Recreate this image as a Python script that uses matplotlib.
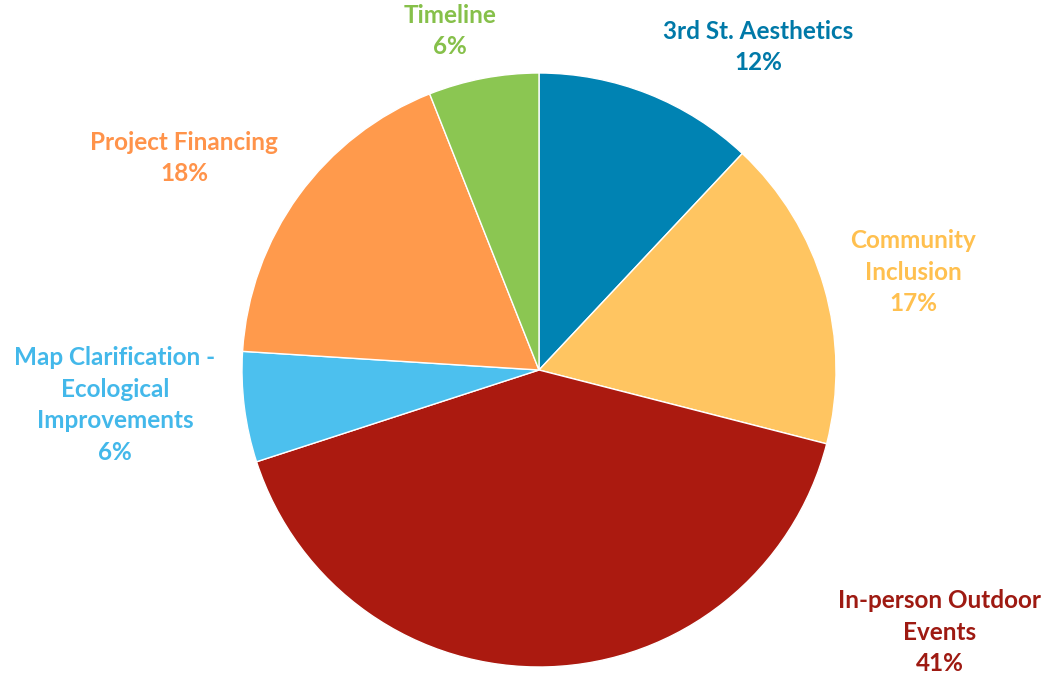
import matplotlib.pyplot as plt

labels = ["3rd St. Aesthetics", "Community\nInclusion", "In-person Outdoor\nEvents",
          "Map Clarification -\nEcological\nImprovements", "Project Financing", "Timeline"]
values = [12, 17, 41, 6, 18, 6]
colors = ["#0083B3", "#FFC561", "#AB1A10", "#4CC0EE", "#FF9A4C", "#8BC652"]
text_colors = ["#0079A8", "#FFC04F", "#9E1A12", "#43B8EA", "#FF934A", "#86C04A"]

# label centres in pixels (from top-left)
label_pos = [(758, 47), (913, 272), (940, 632), (115, 405), (184, 158), (450, 31)]

W, H = 1047, 676
fig = plt.figure(figsize=(W / 100, H / 100), dpi=100)
ax = fig.add_axes([0, 0, 1, 1])

ax.pie(values, colors=colors, startangle=90, counterclock=False,
       center=(539, H - 370), radius=297, frame=True,
       wedgeprops=dict(linewidth=1, edgecolor="white"))
ax.set_xlim(0, W)
ax.set_ylim(0, H)
ax.set_aspect("equal")
ax.axis("off")

for lab, v, (x, y), c in zip(labels, values, label_pos, text_colors):
    ax.text(x, H - y, f"{lab}\n{v}%", ha="center", va="center", color=c,
            fontsize=17.5, fontweight="bold", family="Lato", linespacing=1.47)

fig.savefig("out.png", dpi=100)
